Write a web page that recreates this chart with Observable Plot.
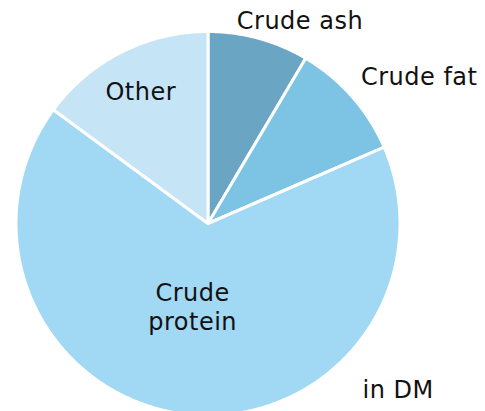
<!DOCTYPE html>
<html><head><meta charset="utf-8">
<script src="https://cdn.jsdelivr.net/npm/d3@7"></script>
<script src="https://cdn.jsdelivr.net/npm/@observablehq/plot@0.6"></script>
<style>html,body{margin:0;padding:0;background:#fff;overflow:hidden}</style>
</head><body><div id="chart"></div>
<script>
// Data
const categories = ["Crude ash", "Crude fat", "Crude protein", "Other"];
const shares = [8.5, 10.0, 66.6, 14.9];
const labelTexts = ["Crude ash", "Crude fat", "Crude\nprotein", "Other"];
const noteText = "in DM";
const colors = ["#6aa6c3", "#7dc3e3", "#a1d8f4", "#c5e5f7"];

// Layout (pie radius units, centre at 0,0)
const labelPos = [[0.479, 1.06], [1.10, 0.77], [-0.08, -0.43], [-0.35, 0.69]];
const notePos = [0.99, -0.86];

const W = 485, H = 411, cx = 207.5, cy = 223, R = 192;

const pie = d3.pie().sort(null).value(d => d.value).startAngle(0).endAngle(2 * Math.PI);
const arcs = pie(categories.map((c, i) => ({cat: c, value: shares[i]})));
const pts = [];
for (const a of arcs) {
  pts.push({cat: a.data.cat, x: 0, y: 0});
  const n = Math.max(2, Math.ceil((a.endAngle - a.startAngle) / 0.01));
  for (let k = 0; k <= n; k++) {
    const t = a.startAngle + (a.endAngle - a.startAngle) * k / n;
    pts.push({cat: a.data.cat, x: Math.sin(t), y: Math.cos(t)});
  }
}
const labels = categories.map((c, i) => ({text: labelTexts[i], x: labelPos[i][0], y: labelPos[i][1]}));
labels.push({text: noteText, x: notePos[0], y: notePos[1]});

const chart = Plot.plot({
  width: W, height: H, margin: 0,
  style: {fontFamily: "DejaVu Sans, sans-serif", background: "#fff", letterSpacing: "0.5px"},
  x: {domain: [-cx / R, (W - cx) / R], axis: null},
  y: {domain: [-(H - cy) / R, cy / R], axis: null},
  color: {domain: categories, range: colors},
  marks: [
    Plot.line(pts, {x: "x", y: "y", z: "cat", fill: "cat", stroke: "white", strokeWidth: 3, curve: "linear-closed"}),
    Plot.text(labels, {x: "x", y: "y", text: "text", fontSize: 24, fill: "#111", lineHeight: 1.22})
  ]
});
document.getElementById("chart").appendChild(chart);
</script>
</body></html>
